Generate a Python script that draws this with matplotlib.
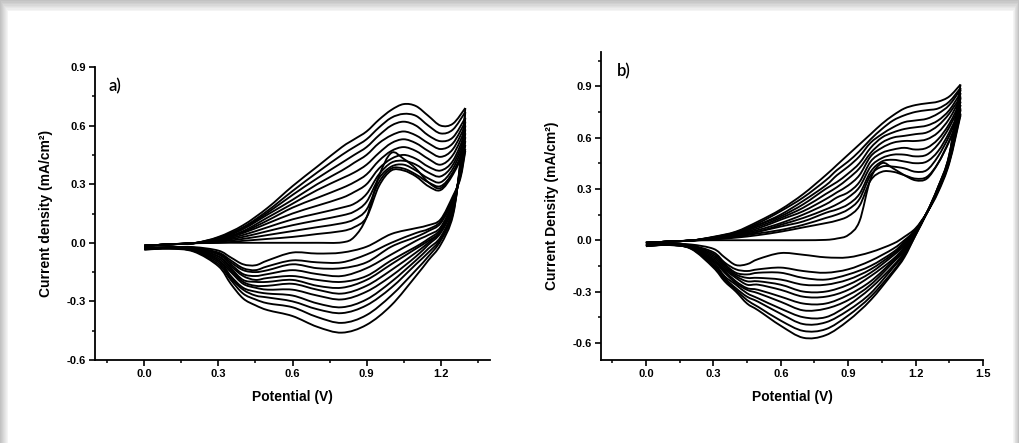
import matplotlib
matplotlib.use('Agg')
import numpy as np
import matplotlib.pyplot as plt
from matplotlib.path import Path
from matplotlib.patches import PathPatch, Rectangle
from matplotlib.ticker import MultipleLocator, FormatStrFormatter

plt.rcParams['font.family'] = ['Liberation Sans', 'DejaVu Sans']
plt.rcParams['font.weight'] = 'bold'
plt.rcParams['axes.labelweight'] = 'bold'
plt.rcParams['axes.unicode_minus'] = False

# ============================================================
# data (12 CV cycles per panel)
# ============================================================
# panel a: forward (anodic) scan
a_fwd_V = [0.0, 0.1, 0.2, 0.3, 0.4, 0.5, 0.6, 0.7, 0.8, 0.85, 0.9, 0.95, 1.0, 1.05, 1.1, 1.15, 1.2, 1.25, 1.3]
a_fwd_I = [
    [-0.015, -0.008, -0.002, 0.000, 0.000, 0.000, 0.000, 0.000, 0.002, 0.030, 0.130, 0.340, 0.460, 0.430, 0.380, 0.310, 0.280, 0.360, 0.470],
    [-0.015, -0.008, -0.002, 0.000, 0.010, 0.020, 0.030, 0.045, 0.060, 0.080, 0.130, 0.290, 0.370, 0.370, 0.340, 0.290, 0.270, 0.350, 0.480],
    [-0.015, -0.008, -0.002, 0.005, 0.020, 0.040, 0.060, 0.080, 0.100, 0.120, 0.170, 0.310, 0.380, 0.380, 0.350, 0.310, 0.290, 0.360, 0.500],
    [-0.015, -0.008, -0.002, 0.008, 0.030, 0.060, 0.090, 0.115, 0.140, 0.160, 0.210, 0.330, 0.390, 0.400, 0.370, 0.330, 0.310, 0.380, 0.520],
    [-0.015, -0.008, -0.002, 0.010, 0.040, 0.080, 0.120, 0.150, 0.180, 0.200, 0.250, 0.350, 0.410, 0.420, 0.400, 0.360, 0.340, 0.400, 0.540],
    [-0.015, -0.008, -0.002, 0.012, 0.050, 0.100, 0.150, 0.190, 0.230, 0.260, 0.300, 0.380, 0.430, 0.450, 0.430, 0.390, 0.370, 0.420, 0.560],
    [-0.015, -0.008, -0.002, 0.015, 0.055, 0.115, 0.180, 0.230, 0.280, 0.310, 0.350, 0.420, 0.470, 0.490, 0.470, 0.430, 0.400, 0.450, 0.580],
    [-0.015, -0.008, -0.002, 0.018, 0.060, 0.130, 0.200, 0.270, 0.330, 0.360, 0.400, 0.460, 0.510, 0.530, 0.510, 0.470, 0.440, 0.480, 0.600],
    [-0.015, -0.008, -0.002, 0.020, 0.070, 0.145, 0.220, 0.300, 0.370, 0.410, 0.450, 0.510, 0.550, 0.570, 0.550, 0.510, 0.480, 0.510, 0.620],
    [-0.015, -0.008, -0.002, 0.024, 0.075, 0.155, 0.245, 0.330, 0.410, 0.450, 0.490, 0.550, 0.600, 0.620, 0.600, 0.550, 0.520, 0.540, 0.640],
    [-0.015, -0.008, -0.002, 0.027, 0.080, 0.165, 0.265, 0.360, 0.450, 0.490, 0.530, 0.590, 0.640, 0.660, 0.650, 0.600, 0.560, 0.580, 0.670],
    [-0.015, -0.008, -0.002, 0.030, 0.090, 0.180, 0.290, 0.390, 0.490, 0.530, 0.570, 0.630, 0.680, 0.710, 0.700, 0.650, 0.600, 0.610, 0.690],
]
# panel a: reverse (cathodic) scan, starts from the end of the forward scan
a_rev_V = [1.28, 1.25, 1.2, 1.15, 1.1, 1.0, 0.9, 0.8, 0.7, 0.6, 0.5, 0.45, 0.4, 0.35, 0.3, 0.2, 0.1, 0.0]
a_rev_I = [
    [0.33, 0.24, 0.12, 0.09, 0.075, 0.045, -0.02, -0.05, -0.055, -0.05, -0.09, -0.115, -0.11, -0.075, -0.04, -0.022, -0.022, -0.025],
    [0.34, 0.23, 0.11, 0.07, 0.05, 0.00, -0.06, -0.10, -0.10, -0.09, -0.12, -0.14, -0.13, -0.09, -0.05, -0.025, -0.023, -0.026],
    [0.35, 0.22, 0.10, 0.06, 0.03, -0.02, -0.10, -0.13, -0.13, -0.11, -0.14, -0.15, -0.14, -0.10, -0.055, -0.026, -0.024, -0.027],
    [0.36, 0.21, 0.08, 0.04, 0.01, -0.06, -0.13, -0.17, -0.16, -0.14, -0.16, -0.17, -0.16, -0.11, -0.06, -0.028, -0.024, -0.028],
    [0.36, 0.20, 0.07, 0.02, -0.02, -0.09, -0.17, -0.20, -0.19, -0.17, -0.18, -0.19, -0.17, -0.12, -0.07, -0.031, -0.025, -0.029],
    [0.37, 0.20, 0.06, 0.01, -0.03, -0.11, -0.19, -0.23, -0.22, -0.19, -0.20, -0.20, -0.19, -0.13, -0.07, -0.032, -0.025, -0.029],
    [0.38, 0.19, 0.06, 0.00, -0.05, -0.14, -0.22, -0.26, -0.24, -0.21, -0.22, -0.22, -0.20, -0.14, -0.08, -0.034, -0.026, -0.030],
    [0.38, 0.18, 0.05, -0.01, -0.07, -0.17, -0.25, -0.29, -0.27, -0.24, -0.24, -0.23, -0.21, -0.15, -0.09, -0.035, -0.027, -0.031],
    [0.39, 0.17, 0.03, -0.03, -0.09, -0.20, -0.29, -0.33, -0.31, -0.27, -0.26, -0.25, -0.23, -0.17, -0.09, -0.037, -0.027, -0.032],
    [0.40, 0.16, 0.02, -0.05, -0.11, -0.23, -0.32, -0.36, -0.34, -0.30, -0.28, -0.27, -0.24, -0.18, -0.10, -0.040, -0.028, -0.033],
    [0.41, 0.15, 0.01, -0.07, -0.14, -0.27, -0.37, -0.41, -0.38, -0.33, -0.31, -0.29, -0.26, -0.19, -0.11, -0.042, -0.029, -0.034],
    [0.42, 0.14, -0.01, -0.09, -0.17, -0.32, -0.42, -0.46, -0.43, -0.375, -0.345, -0.32, -0.285, -0.21, -0.12, -0.045, -0.030, -0.035],
]

# panel b: forward (anodic) scan
b_fwd_V = [0.0, 0.1, 0.2, 0.3, 0.4, 0.5, 0.6, 0.7, 0.8, 0.85, 0.9, 0.95, 1.0, 1.05, 1.1, 1.15, 1.2, 1.25, 1.3, 1.35, 1.4]
b_fwd_I = [
    [-0.015, -0.008, -0.002, 0.000, 0.000, 0.000, 0.000, 0.000, 0.002, 0.010, 0.030, 0.110, 0.360, 0.450, 0.420, 0.380, 0.350, 0.360, 0.450, 0.580, 0.730],
    [-0.015, -0.008, -0.002, 0.005, 0.015, 0.030, 0.050, 0.075, 0.100, 0.115, 0.140, 0.200, 0.350, 0.400, 0.400, 0.380, 0.360, 0.370, 0.450, 0.580, 0.740],
    [-0.015, -0.008, -0.002, 0.007, 0.020, 0.040, 0.060, 0.090, 0.130, 0.150, 0.180, 0.240, 0.380, 0.430, 0.430, 0.420, 0.400, 0.410, 0.490, 0.610, 0.760],
    [-0.015, -0.008, -0.002, 0.008, 0.022, 0.050, 0.080, 0.110, 0.160, 0.180, 0.210, 0.270, 0.400, 0.460, 0.470, 0.460, 0.450, 0.460, 0.520, 0.630, 0.770],
    [-0.015, -0.008, -0.002, 0.010, 0.026, 0.050, 0.090, 0.130, 0.180, 0.210, 0.250, 0.310, 0.430, 0.480, 0.500, 0.500, 0.490, 0.500, 0.560, 0.660, 0.790],
    [-0.015, -0.008, -0.002, 0.011, 0.030, 0.060, 0.100, 0.150, 0.210, 0.250, 0.280, 0.340, 0.460, 0.510, 0.530, 0.540, 0.530, 0.540, 0.590, 0.680, 0.810],
    [-0.015, -0.008, -0.002, 0.013, 0.033, 0.070, 0.120, 0.170, 0.240, 0.280, 0.320, 0.380, 0.490, 0.540, 0.570, 0.580, 0.580, 0.590, 0.630, 0.710, 0.830],
    [-0.015, -0.008, -0.002, 0.014, 0.036, 0.080, 0.130, 0.190, 0.270, 0.310, 0.360, 0.420, 0.510, 0.570, 0.600, 0.610, 0.620, 0.630, 0.670, 0.740, 0.840],
    [-0.015, -0.008, -0.002, 0.016, 0.040, 0.090, 0.140, 0.210, 0.300, 0.340, 0.390, 0.450, 0.540, 0.600, 0.630, 0.650, 0.660, 0.670, 0.700, 0.760, 0.860],
    [-0.015, -0.008, -0.002, 0.017, 0.043, 0.090, 0.150, 0.230, 0.320, 0.380, 0.430, 0.490, 0.570, 0.620, 0.660, 0.690, 0.700, 0.710, 0.740, 0.790, 0.880],
    [-0.015, -0.008, -0.002, 0.018, 0.047, 0.100, 0.170, 0.250, 0.350, 0.410, 0.460, 0.520, 0.590, 0.650, 0.700, 0.730, 0.750, 0.760, 0.770, 0.810, 0.890],
    [-0.015, -0.008, -0.002, 0.020, 0.050, 0.110, 0.180, 0.270, 0.380, 0.440, 0.500, 0.560, 0.620, 0.680, 0.730, 0.770, 0.790, 0.800, 0.810, 0.840, 0.910],
]
# panel b: reverse (cathodic) scan
b_rev_V = [1.35, 1.3, 1.25, 1.2, 1.15, 1.1, 1.0, 0.9, 0.8, 0.7, 0.6, 0.5, 0.45, 0.4, 0.35, 0.3, 0.2, 0.1, 0.0]
b_rev_I = [
    [0.45, 0.28, 0.16, 0.07, 0.02, -0.02, -0.07, -0.10, -0.10, -0.085, -0.075, -0.11, -0.14, -0.145, -0.10, -0.05, -0.025, -0.022, -0.025],
    [0.46, 0.29, 0.16, 0.06, 0.00, -0.05, -0.12, -0.17, -0.19, -0.18, -0.16, -0.17, -0.18, -0.17, -0.13, -0.07, -0.030, -0.023, -0.027],
    [0.46, 0.29, 0.16, 0.06, -0.01, -0.07, -0.15, -0.20, -0.23, -0.22, -0.19, -0.19, -0.20, -0.19, -0.14, -0.08, -0.032, -0.024, -0.028],
    [0.47, 0.29, 0.16, 0.06, -0.02, -0.08, -0.17, -0.23, -0.26, -0.26, -0.23, -0.22, -0.22, -0.20, -0.15, -0.09, -0.034, -0.024, -0.029],
    [0.47, 0.29, 0.16, 0.05, -0.03, -0.09, -0.19, -0.26, -0.30, -0.30, -0.26, -0.24, -0.24, -0.21, -0.16, -0.10, -0.036, -0.025, -0.029],
    [0.48, 0.30, 0.16, 0.05, -0.04, -0.11, -0.21, -0.29, -0.33, -0.33, -0.29, -0.26, -0.26, -0.22, -0.17, -0.11, -0.038, -0.025, -0.030],
    [0.48, 0.30, 0.16, 0.05, -0.05, -0.12, -0.24, -0.32, -0.37, -0.37, -0.33, -0.29, -0.28, -0.24, -0.18, -0.12, -0.040, -0.026, -0.031],
    [0.48, 0.30, 0.16, 0.04, -0.06, -0.13, -0.26, -0.35, -0.40, -0.41, -0.36, -0.31, -0.29, -0.25, -0.19, -0.12, -0.042, -0.026, -0.032],
    [0.49, 0.30, 0.16, 0.04, -0.07, -0.15, -0.28, -0.38, -0.45, -0.45, -0.40, -0.34, -0.31, -0.26, -0.21, -0.13, -0.044, -0.027, -0.033],
    [0.49, 0.31, 0.16, 0.04, -0.08, -0.16, -0.31, -0.41, -0.48, -0.49, -0.43, -0.36, -0.33, -0.28, -0.22, -0.14, -0.046, -0.027, -0.033],
    [0.50, 0.31, 0.16, 0.03, -0.09, -0.18, -0.33, -0.44, -0.52, -0.53, -0.47, -0.39, -0.35, -0.29, -0.23, -0.15, -0.048, -0.028, -0.034],
    [0.50, 0.31, 0.16, 0.03, -0.10, -0.19, -0.35, -0.47, -0.555, -0.57, -0.50, -0.41, -0.37, -0.30, -0.24, -0.16, -0.050, -0.028, -0.035],
]


def smooth_path(xs, ys):
    # Catmull-Rom through the read points, drawn as cubic Bezier segments
    p = np.column_stack([xs, ys]).astype(float)
    n = len(p)
    verts = [p[0]]
    codes = [Path.MOVETO]
    for i in range(n - 1):
        p0 = p[max(i - 1, 0)]
        p1 = p[i]
        p2 = p[i + 1]
        p3 = p[min(i + 2, n - 1)]
        verts += [p1 + (p2 - p0) / 6.0, p2 - (p3 - p1) / 6.0, p2]
        codes += [Path.CURVE4] * 3
    return Path(verts, codes)


def draw_cycles(ax, fwd_V, fwd_I, rev_V, rev_I):
    for fi, ri in zip(fwd_I, rev_I):
        ax.add_patch(PathPatch(smooth_path(fwd_V, fi), fill=False, ec='black', lw=1.35))
        ax.add_patch(PathPatch(smooth_path([fwd_V[-1]] + rev_V, [fi[-1]] + ri),
                               fill=False, ec='black', lw=1.35))


def style_axes(ax, xlim, ylim):
    ax.set_xlim(xlim)
    ax.set_ylim(ylim)
    ax.set_facecolor('none')
    for s in ['top', 'right']:
        ax.spines[s].set_visible(False)
    for s in ['left', 'bottom']:
        ax.spines[s].set_linewidth(1.3)
    ax.xaxis.set_major_locator(MultipleLocator(0.3))
    ax.xaxis.set_minor_locator(MultipleLocator(0.15))
    ax.yaxis.set_major_locator(MultipleLocator(0.3))
    ax.yaxis.set_minor_locator(MultipleLocator(0.15))
    ax.xaxis.set_major_formatter(FormatStrFormatter('%.1f'))
    ax.yaxis.set_major_formatter(FormatStrFormatter('%.1f'))
    ax.tick_params(which='major', direction='out', length=4, width=1.2, labelsize=8, pad=2.5)
    ax.tick_params(which='minor', direction='out', length=2.5, width=1.1)


fig = plt.figure(figsize=(10.19, 4.43), dpi=100)
W, H = 1019.0, 443.0
# grey picture frame
fig.patch.set_facecolor('#c2c2c2')
shades = ['#c9c9c9', '#d0d0d0', '#d8d8d8', '#dfdfdf', '#e6e6e6', '#ededed', '#f4f4f4']
for k, c in enumerate(shades):
    f = (k + 1) / (len(shades) + 1)
    fig.patches.append(Rectangle((8 * f / W, 0), 1 - (8 * f + 6 * f) / W, 1 - 11 * f / H,
                                 transform=fig.transFigure, fc=c, ec='none', zorder=-10))
fig.patches.append(Rectangle((8 / W, 0), 1 - 14 / W, 1 - 11 / H,
                             transform=fig.transFigure, fc='white', ec='none', zorder=-9))

ax_a = fig.add_axes([95 / W, 1 - 360 / H, 395 / W, 293 / H])
ax_b = fig.add_axes([601 / W, 1 - 360 / H, 382 / W, 308 / H])

draw_cycles(ax_a, a_fwd_V, a_fwd_I, a_rev_V, a_rev_I)
draw_cycles(ax_b, b_fwd_V, b_fwd_I, b_rev_V, b_rev_I)

style_axes(ax_a, (-0.2, 1.4), (-0.6, 0.9))
style_axes(ax_b, (-0.2, 1.5), (-0.7, 1.1))

ax_a.set_xlabel('Potential (V)', fontsize=10, fontweight='bold', labelpad=8)
ax_b.set_xlabel('Potential (V)', fontsize=10, fontweight='bold', labelpad=8)
ax_a.set_ylabel('Current density (mA/cm²)', fontsize=10, fontweight='bold', labelpad=10)
ax_b.set_ylabel('Current Density (mA/cm²)', fontsize=10, fontweight='bold', labelpad=10)

ax_a.text(0.033, 0.935, 'a)', transform=ax_a.transAxes, fontsize=12,
          fontweight='semibold', family=['Lato', 'DejaVu Sans'], va='center', ha='left')
ax_b.text(0.042, 0.938, 'b)', transform=ax_b.transAxes, fontsize=12,
          fontweight='semibold', family=['Lato', 'DejaVu Sans'], va='center', ha='left')

fig.canvas.draw()
for ax in (ax_a, ax_b):
    plt.setp(ax.get_xticklabels() + ax.get_yticklabels(), fontweight='bold')

fig.savefig('out.png', dpi=100, facecolor=fig.get_facecolor())
